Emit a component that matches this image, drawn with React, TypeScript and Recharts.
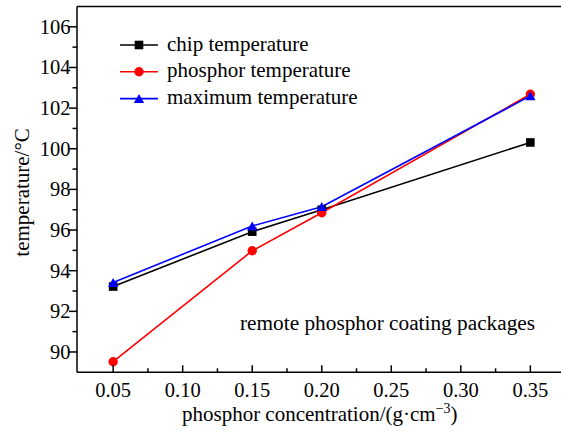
import React from "react";
import { LineChart, Line, XAxis, YAxis, Legend, ReferenceLine, Label } from "recharts";

const concentration = [0.05, 0.15, 0.2, 0.35];
const chipTemp = [93.22, 95.92, 97.0, 100.31];
const phosphorTemp = [89.52, 94.98, 96.85, 102.68];
const maxTemp = [93.42, 96.2, 97.15, 102.6];

const xTicks = [0.05, 0.075, 0.1, 0.125, 0.15, 0.175, 0.2, 0.225, 0.25, 0.275, 0.3, 0.325, 0.35];
const yTicks = [90, 91, 92, 93, 94, 95, 96, 97, 98, 99, 100, 101, 102, 103, 104, 105, 106];
const seriesOrder = ["chip", "phosphor", "max"];

const data = concentration.map((x, i) => ({
  x,
  chip: chipTemp[i],
  phosphor: phosphorTemp[i],
  max: maxTemp[i],
}));

const FONT = '"Liberation Serif", "Times New Roman", serif';

function Marker({ kind, cx, cy }: { kind: string; cx: number; cy: number }) {
  if (kind === "chip") return <rect x={cx - 4.3} y={cy - 4.3} width={8.6} height={8.6} fill="#000" />;
  if (kind === "phosphor") return <circle cx={cx} cy={cy} r={4.7} fill="#ff0000" />;
  return <polygon points={`${cx},${cy - 4.6} ${cx - 5.2},${cy + 4.4} ${cx + 5.2},${cy + 4.4}`} fill="#0000ff" />;
}

const dotFor = (kind: string) => (props: any) => (
  <g key={`${kind}-${props.index}`}>
    <Marker kind={kind} cx={props.cx} cy={props.cy} />
  </g>
);

function XTick({ x, y, payload }: any) {
  const v = payload.value;
  const major = Math.abs(v * 20 - Math.round(v * 20)) < 1e-6;
  return (
    <g>
      <line x1={x} x2={x} y1={y} y2={y - (major ? 7 : 4)} stroke="#000" strokeWidth={1.5} />
      {major && (
        <text x={x} y={y + 25} textAnchor="middle" fontFamily={FONT} fontSize={20.5} fill="#000">
          {v.toFixed(2)}
        </text>
      )}
    </g>
  );
}

function YTick({ x, y, payload }: any) {
  const v = payload.value;
  const major = v % 2 === 0;
  return (
    <g>
      <line x1={x - (major ? 8 : 4.5)} x2={x} y1={y} y2={y} stroke="#000" strokeWidth={1.5} />
      {major && (
        <text x={x - 6.5} y={y + 7} textAnchor="end" fontFamily={FONT} fontSize={20.5} fill="#000">
          {v}
        </text>
      )}
    </g>
  );
}

function XTitle({ viewBox }: any) {
  const cx = viewBox.x + viewBox.width / 2;
  return (
    <text x={cx - 2} y={viewBox.y + 48.7} textAnchor="middle" fontFamily={FONT} fontSize={21} fill="#000">
      phosphor concentration/(g·cm
      <tspan dy={-8} fontSize={14}>−3</tspan>
      <tspan dy={8}>)</tspan>
    </text>
  );
}

function YTitle({ viewBox }: any) {
  const cy = viewBox.y + viewBox.height / 2 + 3;
  return (
    <text
      x={29}
      y={cy}
      transform={`rotate(-90, 29, ${cy})`}
      textAnchor="middle"
      fontFamily={FONT}
      fontSize={21}
      fill="#000"
    >
      temperature/°C
    </text>
  );
}

function LegendBox({ payload }: any) {
  const items = [...(payload || [])].sort(
    (a: any, b: any) => seriesOrder.indexOf(a.dataKey) - seriesOrder.indexOf(b.dataKey)
  );
  return (
    <svg width={260} height={90}>
      {items.map((entry: any, i: number) => {
        const cy = 15 + 26.8 * i;
        return (
          <g key={entry.value}>
            <line x1={10} x2={48} y1={cy} y2={cy} stroke={entry.color} strokeWidth={1.6} />
            <Marker kind={entry.dataKey} cx={29} cy={cy} />
            <text x={57} y={cy + 5.5} fontFamily={FONT} fontSize={21} fill="#000">
              {entry.value}
            </text>
          </g>
        );
      })}
    </svg>
  );
}

export default function App() {
  return (
    <div style={{ position: "fixed", left: 0, top: 0, width: 561, height: 432, overflow: "hidden", background: "#fff" }}>
      <LineChart width={600} height={432} data={data} margin={{ top: 6.5, right: 33.5, bottom: 0, left: 0 }}>
        <XAxis
          type="number"
          dataKey="x"
          domain={[0.024, 0.376]}
          ticks={xTicks}
          interval={0}
          allowDataOverflow
          height={59.7}
          tickSize={0}
          tickMargin={0}
          tickLine={false}
          axisLine={{ stroke: "#000", strokeWidth: 1.5 }}
          tick={<XTick />}
        >
          <Label content={<XTitle />} />
        </XAxis>
        <YAxis
          type="number"
          domain={[89, 107]}
          ticks={yTicks}
          interval={0}
          allowDataOverflow
          width={77}
          tickSize={0}
          tickMargin={0}
          tickLine={false}
          axisLine={{ stroke: "#000", strokeWidth: 1.5 }}
          tick={<YTick />}
        >
          <Label content={<YTitle />} />
        </YAxis>
        <ReferenceLine y={107} stroke="#000" strokeWidth={1.5} />
        <ReferenceLine x={0.376} stroke="#000" strokeWidth={1.5} />
        <Legend
          layout="horizontal"
          verticalAlign="middle"
          align="center"
          wrapperStyle={{ left: 110, top: 30, width: 260, height: 90 }}
          content={<LegendBox />}
        />
        <Line
          dataKey="chip"
          name="chip temperature"
          stroke="#000000"
          strokeWidth={1.6}
          dot={dotFor("chip")}
          activeDot={false}
          isAnimationActive={false}
        />
        <Line
          dataKey="phosphor"
          name="phosphor temperature"
          stroke="#ff0000"
          strokeWidth={1.6}
          dot={dotFor("phosphor")}
          activeDot={false}
          isAnimationActive={false}
        />
        <Line
          dataKey="max"
          name="maximum temperature"
          stroke="#0000ff"
          strokeWidth={1.6}
          dot={dotFor("max")}
          activeDot={false}
          isAnimationActive={false}
        />
      </LineChart>
      <div
        style={{
          position: "absolute",
          left: 240,
          top: 313.4,
          fontFamily: FONT,
          fontSize: 21.3,
          lineHeight: "21px",
          whiteSpace: "nowrap",
          color: "#000",
        }}
      >
        remote phosphor coating packages
      </div>
    </div>
  );
}
